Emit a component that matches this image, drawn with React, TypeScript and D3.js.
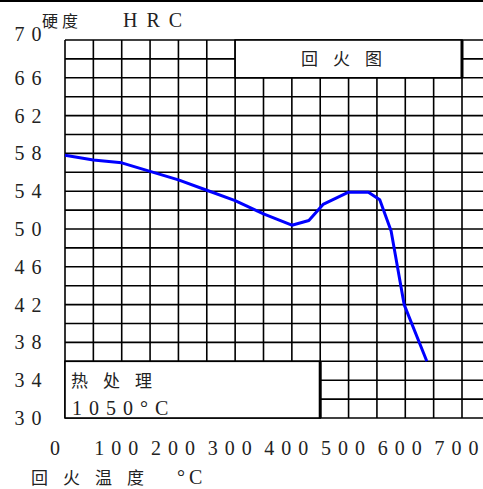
import React from 'react';
import * as d3 from 'd3';

// tempering curve
const temps = [0, 50, 100, 150, 200, 250, 300, 350, 400, 430, 455, 500, 535, 555, 575, 598, 638];
const hardness = [57.8, 57.3, 57.0, 56.1, 55.2, 54.1, 53.0, 51.6, 50.4, 50.9, 52.6, 53.9, 53.9, 53.1, 49.8, 42.0, 36.0];

const yTicks = [70, 66, 62, 58, 54, 50, 46, 42, 38, 34, 30];
const xTicks = [0, 100, 200, 300, 400, 500, 600, 700];

const W = 483;
const H = 489;

const serif = '"Liberation Serif", "DejaVu Serif", serif';
const cjk = '"Noto Sans CJK SC", sans-serif';

// spaced characters without trailing gap
function spaced(s: string, gap: number) {
    return s.split('').map((c, i) => (
        <tspan key={i} dx={i === 0 ? 0 : gap}>{c}</tspan>
    ));
}

export default function App() {
    const x = d3.scaleLinear().domain([0, 700]).range([65, 462]);
    const y = d3.scaleLinear().domain([30, 70]).range([418, 40]);

    const vLines = d3.range(0, 751, 50);
    const hLines = d3.range(30, 71, 2);

    const pts = temps.map((t, i) => [x(t), y(hardness[i])] as [number, number]);
    const path = d3.line().curve(d3.curveLinear)(pts) || '';

    return (
        <svg width={W} height={H} style={{ position: 'absolute', left: 0, top: 0, background: '#fff' }}>
            <rect x={0} y={0} width={W} height={H} fill="#fff" />
            <line x1={0} x2={W} y1={1} y2={1} stroke="#000" strokeWidth={2} />

            {/* grid */}
            {vLines.map(v => (
                <line key={'v' + v} x1={x(v)} x2={x(v)} y1={y(70)} y2={y(30)} stroke="#000" strokeWidth={1.6} />
            ))}
            {hLines.map(h => (
                <line key={'h' + h} x1={x(0)} x2={W} y1={y(h)} y2={y(h)} stroke="#000" strokeWidth={1.6} />
            ))}

            {/* title box */}
            <rect x={x(300)} y={y(70)} width={x(700) - x(300)} height={y(66) - y(70)} fill="#fff" stroke="#000" strokeWidth={1.6} />
            <line x1={x(700)} x2={x(700)} y1={y(70)} y2={y(66)} stroke="#000" strokeWidth={3} />
            <text x={301} y={65} fontFamily={cjk} fontSize={17} fill="#222">{spaced('回火图', 15)}</text>

            {/* heat treatment box */}
            <rect x={x(0)} y={y(36)} width={x(450) - x(0)} height={y(30) - y(36)} fill="#fff" stroke="#000" strokeWidth={1.6} />
            <line x1={x(450)} x2={x(450)} y1={y(36)} y2={y(30)} stroke="#000" strokeWidth={3} />
            <text x={71} y={387} fontFamily={cjk} fontSize={17} fill="#222">{spaced('热处理', 15)}</text>
            <text x={72} y={415} fontFamily={serif} fontSize={20} fill="#222">{spaced('1050°C', 7)}</text>

            {/* curve */}
            <path d={path} fill="none" stroke="#0000ff" strokeWidth={3} strokeLinejoin="round" />

            {/* y labels */}
            {yTicks.map(v => (
                <text key={'yl' + v} x={41.5} y={y(v) + (v === 70 ? -6 : 0)} dy="0.35em" textAnchor="end"
                    fontFamily={serif} fontSize={20} fill="#222">{spaced(String(v), 7)}</text>
            ))}

            {/* x labels */}
            {xTicks.map(v => (
                <text key={'xl' + v} x={x(v) + (v === 0 ? -10 : -5.5)} y={448} dy="0.35em" textAnchor="middle"
                    fontFamily={serif} fontSize={20} fill="#222">{spaced(String(v), 7)}</text>
            ))}

            {/* axis titles */}
            <text x={42} y={27} fontFamily={cjk} fontSize={16} fill="#222">{spaced('硬度', 4)}</text>
            <text x={123} y={27} fontFamily={serif} fontSize={20} fill="#222">{spaced('HRC', 9)}</text>
            <text x={31} y={484} fontFamily={cjk} fontSize={17} fill="#222">{spaced('回火温度', 15)}</text>
            <text x={177} y={484} fontFamily={serif} fontSize={20} fill="#222">{spaced('°C', 4)}</text>
        </svg>
    );
}
